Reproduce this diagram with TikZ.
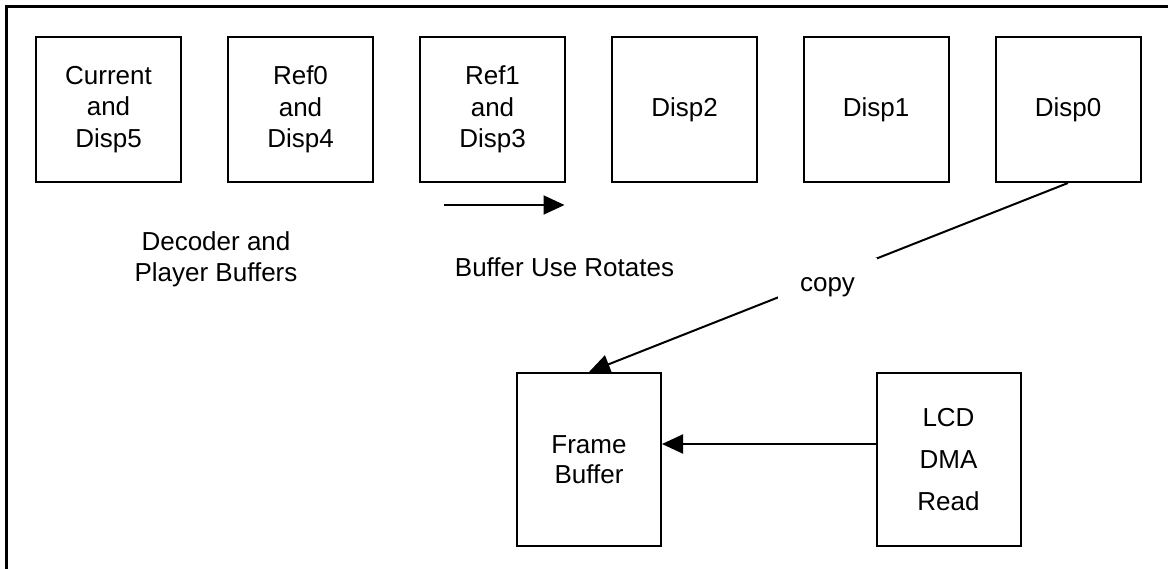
\documentclass[tikz,border=0pt]{standalone}
\usepackage{fontspec}
\setmainfont{Liberation Sans}
\usetikzlibrary{arrows.meta}
\begin{document}
\begin{tikzpicture}[x=0.5pt,y=-0.5pt,
 buf/.style={draw,line width=1pt,minimum width=72.5pt,minimum height=72.5pt,inner sep=0pt,align=center,font=\fontsize{13}{15.8}\selectfont},
 tallbox/.style={draw,line width=1pt,minimum width=72pt,minimum height=86.5pt,inner sep=0pt,align=center},
 lbl/.style={align=center,inner sep=0pt,font=\fontsize{13}{15.4}\selectfont},
 conn/.style={line width=1pt,-{Triangle[length=10.5pt,width=9.5pt]}},
 copylbl/.style={fill=white,inner sep=0pt,minimum width=49.5pt,minimum height=29pt,font=\fontsize{13}{15.4}\selectfont},
]
\useasboundingbox (0,0) rectangle (1168,568);
\fill[white] (0,0) rectangle (1168,568);
\draw[line width=1.4pt] (6.8,575) -- (6.8,6.8) -- (1175,6.8);

\node[buf] (b1) at (108.5,109.5) {Current\\and\\Disp5};
\node[buf] (b2) at (300.5,109.5) {Ref0\\and\\Disp4};
\node[buf] (b3) at (492.5,109.5) {Ref1\\and\\Disp3};
\node[buf] (b4) at (684.5,109.5) {Disp2};
\node[buf] (b5) at (876,109.5) {Disp1};
\node[buf] (b6) at (1068,109.5) {Disp0};

\node[lbl] (dec) at (216,259) {Decoder and\\Player Buffers};
\node[lbl] (rot) at (564.5,267) {Buffer Use Rotates};

\coordinate (r1) at (444,205);
\coordinate (r2) at (564.5,205);
\draw[conn] (r1) -- (r2);

\node[tallbox,font=\fontsize{13}{15}\selectfont] (fb) at (589,459.5) {Frame\\Buffer};
\node[tallbox,font=\fontsize{13}{21}\selectfont] (lcd) at (948.5,459.5) {LCD\\DMA\\Read};

\draw[conn] (b6.south) -- (fb.north);
\node[copylbl] (copy) at (827.5,287) {copy};

\draw[conn] ([yshift=7.75pt]lcd.west) -- ([yshift=7.75pt]fb.east);
\end{tikzpicture}
\end{document}
